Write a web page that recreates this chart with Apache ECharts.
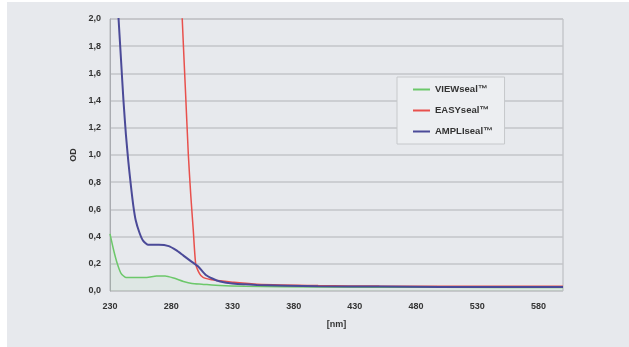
<!DOCTYPE html>
<html>
<head>
<meta charset="utf-8">
<script src="https://cdn.jsdelivr.net/npm/echarts@6/dist/echarts.min.js"></script>
<style>
  html, body { margin: 0; padding: 0; background: #ffffff; }
  #chart { width: 629px; height: 347px; }
</style>
</head>
<body>
<div id="chart"></div>
<script>
  // wavelength [nm] / OD pairs
  var viewWave = [230, 233, 236, 239, 243, 250, 260, 268, 275, 282, 290, 297, 305, 320, 340, 400, 500, 600];
  var viewOD   = [0.42, 0.30, 0.20, 0.13, 0.10, 0.10, 0.10, 0.11, 0.11, 0.095, 0.07, 0.055, 0.05, 0.04, 0.035, 0.03, 0.027, 0.025];

  var easyWave = [288, 289, 291.5, 294, 296, 298, 300, 303, 306, 312, 320, 330, 350, 400, 450, 500, 600];
  var easyOD   = [2.3, 2.0, 1.5, 1.0, 0.7, 0.45, 0.2, 0.13, 0.1, 0.085, 0.075, 0.065, 0.05, 0.04, 0.036, 0.035, 0.035];

  var ampliWave = [235, 237, 239, 241, 243, 245, 247, 249, 251, 254, 257, 261, 270, 278, 284, 290, 296, 302, 308, 314, 320, 330, 350, 400, 450, 500, 550, 600];
  var ampliOD   = [2.3, 2.0, 1.7, 1.4, 1.15, 0.95, 0.78, 0.63, 0.52, 0.43, 0.37, 0.34, 0.34, 0.33, 0.30, 0.26, 0.22, 0.18, 0.12, 0.09, 0.07, 0.055, 0.045, 0.035, 0.033, 0.03, 0.03, 0.03];

  var seriesNames = ['VIEWseal™', 'EASYseal™', 'AMPLIseal™'];

  function pairs(xs, ys) {
    var out = [];
    for (var i = 0; i < xs.length; i++) out.push([xs[i], ys[i]]);
    return out;
  }

  var labelFont = { fontFamily: 'Liberation Sans', fontWeight: 'bold', fontSize: 9, color: '#333' };

  var chart = echarts.init(document.getElementById('chart'));
  chart.setOption({
    animation: false,
    backgroundColor: '#ffffff',
    graphic: [{
      type: 'rect',
      left: 7, top: 2,
      shape: { width: 622, height: 345 },
      style: { fill: '#e7e9ed' },
      z: -10
    }],
    grid: {
      left: 110, right: 66, top: 19, bottom: 56,
      show: true,
      backgroundColor: 'transparent',
      borderColor: '#b5b7bb',
      borderWidth: 1
    },
    legend: {
      orient: 'vertical',
      left: 397, top: 77,
      padding: [7, 12, 7, 16],
      backgroundColor: '#eceef1',
      borderColor: '#c6c8cb',
      borderWidth: 1,
      icon: 'rect',
      itemWidth: 17, itemHeight: 2,
      itemGap: 10,
      textStyle: { fontFamily: 'Liberation Sans', fontWeight: 'bold', fontSize: 9.5, color: '#333', lineHeight: 11 },
      data: seriesNames
    },
    xAxis: {
      type: 'value',
      min: 230, max: 600, interval: 50,
      name: '[nm]',
      nameLocation: 'middle',
      nameGap: 29,
      nameTextStyle: labelFont,
      axisLine: { show: false },
      axisTick: { show: false },
      splitLine: { show: false },
      axisLabel: Object.assign({ showMaxLabel: false, margin: 11 }, labelFont)
    },
    yAxis: {
      type: 'value',
      min: 0, max: 2, interval: 0.2,
      name: 'OD',
      nameLocation: 'middle',
      nameGap: 30,
      nameRotate: 90,
      nameTextStyle: labelFont,
      axisLine: { show: true, lineStyle: { color: '#a9abb0', width: 1 } },
      axisTick: { show: false },
      splitLine: { lineStyle: { color: '#c3c5c9', width: 1.5 } },
      axisLabel: Object.assign({
        margin: 9,
        formatter: function (v) { return v.toFixed(1).replace('.', ','); }
      }, labelFont)
    },
    series: [
      {
        name: seriesNames[0], type: 'line', data: pairs(viewWave, viewOD),
        showSymbol: false, smooth: 0.2, clip: true,
        lineStyle: { color: '#6cc86a', width: 1.5 },
        itemStyle: { color: '#6cc86a' },
        areaStyle: { color: 'rgba(120,210,120,0.10)' }
      },
      {
        name: seriesNames[1], type: 'line', data: pairs(easyWave, easyOD),
        showSymbol: false, smooth: 0.2, clip: true,
        lineStyle: { color: '#e8504c', width: 1.5 },
        itemStyle: { color: '#e8504c' }
      },
      {
        name: seriesNames[2], type: 'line', data: pairs(ampliWave, ampliOD),
        showSymbol: false, smooth: 0.2, clip: true,
        lineStyle: { color: '#4b4a98', width: 2 },
        itemStyle: { color: '#4b4a98' }
      }
    ]
  });
</script>
</body>
</html>
